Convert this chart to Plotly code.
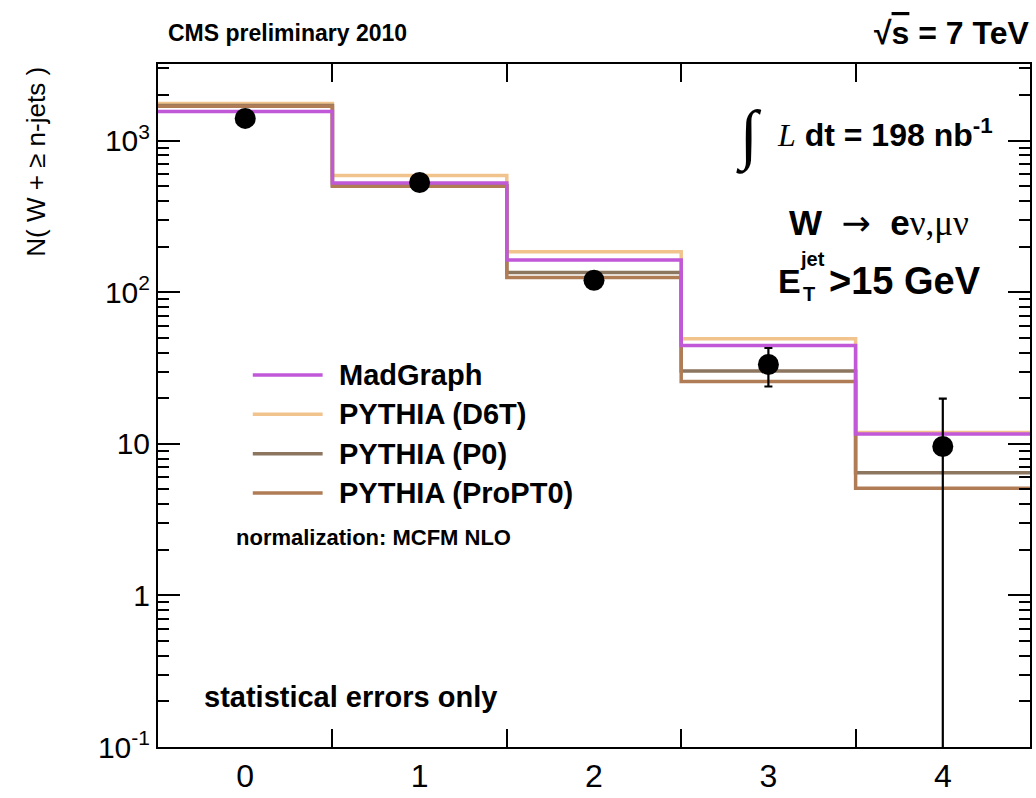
import plotly.graph_objects as go

# ---- data ----
n_jets = [0, 1, 2, 3, 4]
data_vals = [1403, 530, 120, 33.4, 9.6]
data_err = [40, 25, 12, 9.5, 10.3]
madgraph = [1560, 526, 163, 44.6, 11.6]
pythia_d6t = [1760, 590, 185, 49.3, 11.9]
pythia_p0 = [1710, 505, 135, 30.2, 6.45]
pythia_propt0 = [1690, 500, 125, 25.8, 5.1]

y_tickvals = [0.1, 1, 10, 100, 1000]
y_ticktext = ["10<sup>-1</sup>", "1", "10", "10<sup>2</sup>", "10<sup>3</sup>"]

series = [
    ("PYTHIA (D6T)", pythia_d6t, "#f0c48c"),
    ("PYTHIA (P0)", pythia_p0, "#8c7660"),
    ("PYTHIA (ProPT0)", pythia_propt0, "#b07c56"),
    ("MadGraph", madgraph, "#c058d8"),
]
legend_order = ["MadGraph", "PYTHIA (D6T)", "PYTHIA (P0)", "PYTHIA (ProPT0)"]

# ---- layout geometry (pixels) ----
W, H = 1036, 798
L_, R_, T_, B_ = 158, 4, 64, 40
PW, PH = W - L_ - R_, H - T_ - B_


def px(x):
    return (x - L_) / PW


def py(y):
    return (H - B_ - y) / PH


edges = [n - 0.5 for n in n_jets] + [n_jets[-1] + 0.5]

fig = go.Figure()
for name, vals, col in series:
    fig.add_trace(go.Scatter(
        x=edges, y=list(vals) + [vals[-1]], mode="lines", name=name,
        line=dict(color=col, width=3.5, shape="hv"), showlegend=False))

fig.add_trace(go.Scatter(
    x=n_jets, y=data_vals, mode="markers", name="Data",
    marker=dict(color="black", size=21),
    error_y=dict(type="data", array=data_err, color="black", thickness=2.2, width=4),
    showlegend=False))

minor_y = [k * 10 ** e for e in range(-1, 4) for k in range(2, 10)]

fig.update_layout(
    width=W, height=H,
    margin=dict(l=L_, r=R_, t=T_, b=B_),
    paper_bgcolor="white", plot_bgcolor="white",
    font=dict(family="Liberation Sans, Arial, sans-serif", color="black"),
    xaxis=dict(range=[-0.5, 4.5], tickvals=n_jets, ticktext=[str(n) for n in n_jets],
               ticks="", showgrid=False, zeroline=False,
               showline=True, linecolor="black", linewidth=2, mirror="ticks",
               tickfont=dict(size=32),
               minor=dict(tickvals=[n + 0.5 for n in n_jets[:-1]], ticks="inside",
                          ticklen=18, tickwidth=1.5, tickcolor="black", showgrid=False)),
    yaxis=dict(type="log", range=[-1, 3.506], tickvals=y_tickvals, ticktext=y_ticktext,
               ticks="inside", ticklen=22, tickwidth=1.5, tickcolor="black",
               showgrid=False, zeroline=False,
               showline=True, linecolor="black", linewidth=2, mirror="ticks",
               tickfont=dict(size=30),
               minor=dict(tickvals=minor_y, ticks="inside", ticklen=11, tickwidth=1.5,
                          tickcolor="black", showgrid=False)),
)

ann = []


def add_text(text, x, y, size, xanchor="left", family=None, angle=0):
    d = dict(text=text, x=px(x), y=py(y), xref="paper", yref="paper",
             xanchor=xanchor, yanchor="middle", showarrow=False,
             font=dict(size=size, color="black"), textangle=angle)
    if family:
        d["font"]["family"] = family
    ann.append(d)


add_text("N( W + ≥ n-jets )", 36, 163, 26, xanchor="center", angle=-90)
add_text("<b>CMS preliminary 2010</b>", 166, 33, 23)
add_text("<b>√<span style='text-decoration:overline'>s</span> = 7 TeV</b>", 1033, 33, 32,
         xanchor="right")
add_text("∫", 750, 137, 66, xanchor="center", family="Liberation Serif, serif")
add_text("<span style='font-family:Liberation Serif'><i>L</i></span> <b>dt = 198 nb<sup>-1</sup></b>",
         776, 134, 32)
add_text("<b>W</b>&nbsp; <span style='font-family:DejaVu Sans'>→</span>&nbsp; <b>e</b>"
         "<span style='font-family:Liberation Serif'>ν,μν</span>",
         881, 226, 35, xanchor="center")
add_text("<b>E</b>", 777, 284, 34)
add_text("<b>jet</b>", 799, 262, 20)
add_text("<b>T</b>", 802, 298, 20)
add_text("<b>>15 GeV</b>", 829, 284, 38)

add_text("<b>normalization: MCFM NLO</b>", 234, 545, 22)
add_text("<b>statistical errors only</b>", 202, 707, 29)

shapes = []
row_y = [380, 420, 460, 500]
cols = {n: c for n, _, c in series}
for name, yy in zip(legend_order, row_y):
    shapes.append(dict(type="line", xref="paper", yref="paper",
                       x0=px(253), x1=px(323), y0=py(yy), y1=py(yy),
                       line=dict(color=cols[name], width=3.5)))
    add_text("<b>" + name + "</b>", 337, yy, 29)

fig.update_layout(annotations=ann, shapes=shapes)
fig.write_html("out.html")
